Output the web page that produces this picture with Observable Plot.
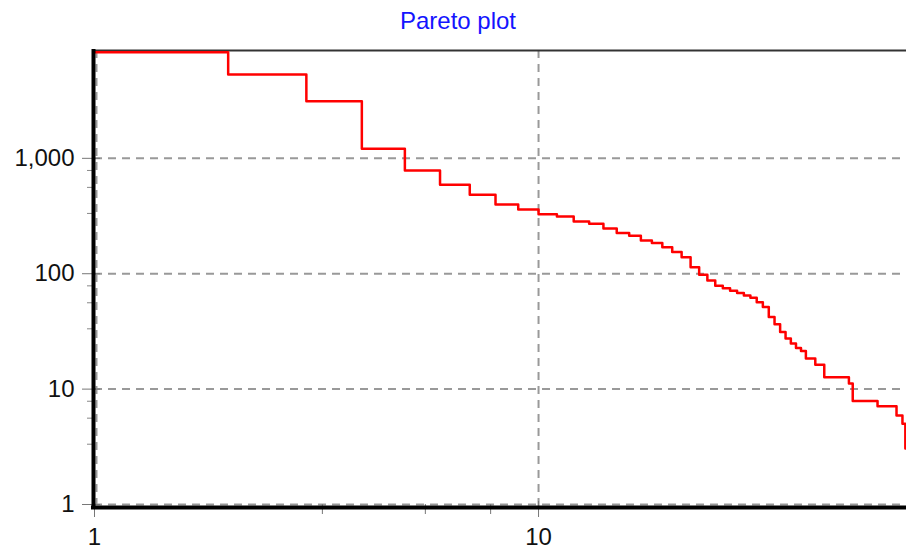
<!DOCTYPE html>
<html><head><meta charset="utf-8">
<script src="https://cdn.jsdelivr.net/npm/d3@7"></script>
<script src="https://cdn.jsdelivr.net/npm/@observablehq/plot@0.6"></script>
<style>
body{margin:0;background:#fff;width:906px;height:551px;overflow:hidden;}
#title{height:40px;box-sizing:border-box;padding-top:7px;line-height:27px;font-family:"Liberation Sans",Arial,sans-serif;font-size:24px;color:#1414ff;text-align:center;padding-left:10px;white-space:nowrap;}
</style></head><body>
<div id="title"></div>
<div id="chart"></div>
<script>
const title = "Pareto plot";
// value of the i-th largest item (rank 1..67)
const values = [8300, 5320, 3120, 1208, 784, 590, 483, 398, 360, 328,
  313, 284, 271, 247, 225, 213, 194, 185, 170, 154,
  139, 114, 98, 87.5, 78.7, 75, 71.3, 67.9, 64.9, 62,
  56.5, 51.4, 42.1, 36.4, 31.2, 27.4, 24.8, 22.7, 21.4, 18.4,
  18.4, 16.3, 16.3, 12.7, 12.7, 12.7, 12.7, 12.7, 12.7, 11.2,
  7.9, 7.9, 7.9, 7.9, 7.9, 7.9, 7.9, 7.1, 7.1, 7.1,
  7.1, 7.1, 7.1, 5.9, 5.9, 5.0, 3.05];
const ranks = values.map((_, i) => i + 1);
const xTicks = [1, 10];
const xMinorTicks = [3.26, 5.56, 7.8];
const yTicks = [1, 10, 100, 1000];
const yMinorDecades = [1, 10, 100];
const yMinorMultipliers = [3.33, 5.6, 7.85];
const xDomain = [1, 67.4];
const yDomain = [1, 8600];

document.getElementById("title").textContent = title;

const yMinorTicks = yMinorDecades.flatMap(d => yMinorMultipliers.map(m => d * m));
const data = ranks.map((r, i) => ({rank: r, value: values[i]}));
data.push({rank: ranks[ranks.length - 1] + 1, value: values[values.length - 1]});

const gridStyle = {stroke: "#999", strokeWidth: 2, strokeDasharray: "8,6"};
const blank = () => "";

const chart = Plot.plot({
  width: 906,
  height: 511,
  marginLeft: 94,
  marginRight: 0,
  marginTop: 10,
  marginBottom: 47,
  style: {fontFamily: "'Liberation Sans', Arial, sans-serif", fontSize: "24px", color: "#111", background: "white"},
  x: {type: "log", domain: xDomain, label: null},
  y: {type: "log", domain: yDomain, label: null},
  marks: [
    Plot.ruleY(yTicks, gridStyle),
    Plot.ruleX([xTicks[0]], {...gridStyle, dx: 2}),
    Plot.ruleX([xTicks[1]], {...gridStyle, insetBottom: -6}),
    Plot.ruleY([yDomain[1]], {stroke: "#333", strokeWidth: 2}),
    Plot.line(data, {x: "rank", y: "value", curve: "step-after", stroke: "#ff0000", strokeWidth: 2.5, clip: true}),
    Plot.axisY(yMinorTicks, {tickSize: 7, tickFormat: blank, stroke: "#888", label: null}),
    Plot.axisY(yTicks, {tickSize: 18, dx: 6, tickFormat: blank, stroke: "#777", label: null}),
    Plot.axisY(yTicks, {tickSize: 0, tickPadding: 20, tickFormat: d3.format(","), fontSize: 24, label: null}),
    Plot.axisX(xMinorTicks, {tickSize: 10, tickFormat: blank, stroke: "#777", label: null}),
    Plot.axisX(xTicks, {tickSize: 16, dy: -3, tickFormat: blank, stroke: "#777", label: null}),
    Plot.axisX(xTicks, {tickSize: 0, tickPadding: 23, fontSize: 24, label: null}),
    Plot.ruleX([xDomain[0]], {stroke: "black", strokeWidth: 4, dx: -1, insetBottom: -5, insetTop: -1}),
    Plot.ruleY([yDomain[0]], {stroke: "black", strokeWidth: 4, dy: 3, insetLeft: -3})
  ]
});
document.getElementById("chart").appendChild(chart);
</script>
</body></html>
